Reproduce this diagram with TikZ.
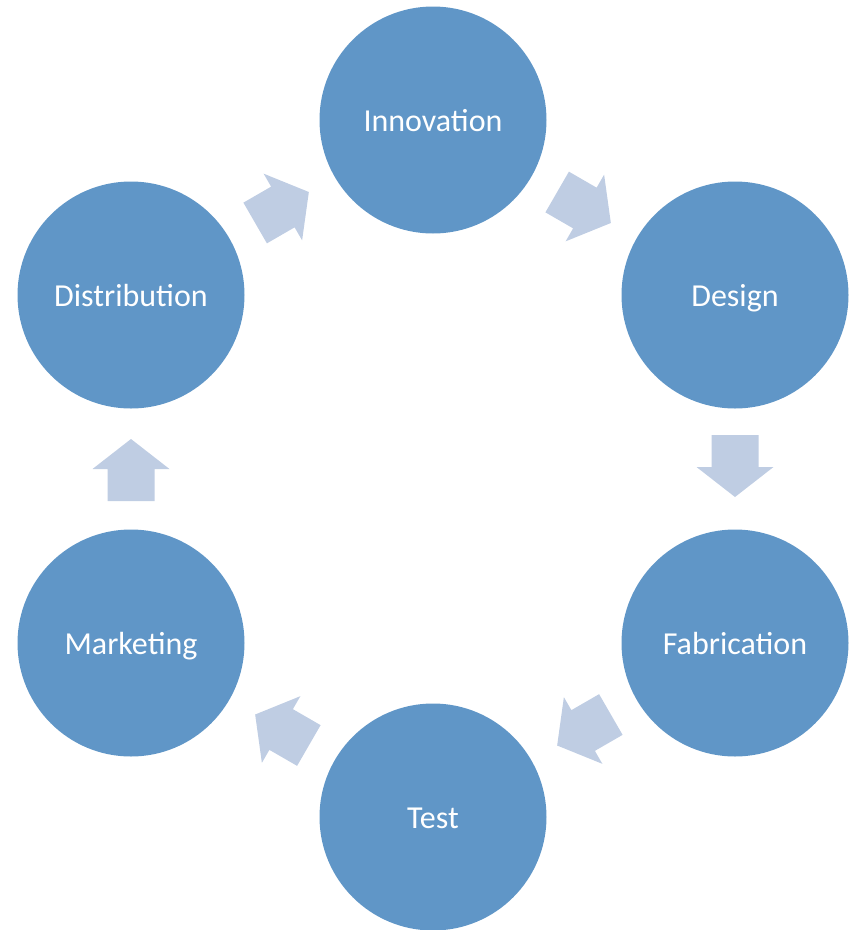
\documentclass[tikz,border=0pt]{standalone}
\usepackage{fontspec}
\setmainfont{Carlito}
\usetikzlibrary{calc}
\definecolor{circblue}{RGB}{96,150,199}
\definecolor{arrowblue}{RGB}{191,205,227}
\begin{document}
\begin{tikzpicture}[x=1pt,y=-1pt,
  stage/.style={circle, fill=circblue, minimum size=227pt, inner sep=0pt,
    text=white, font=\fontsize{32}{38}\selectfont, text height=26pt, text depth=3pt},
  blockarrow/.pic={\fill[arrowblue] (-31,-23.5) -- (1,-23.5) -- (1,-38.5) -- (31,0)
     -- (1,38.5) -- (1,23.5) -- (-31,23.5) -- cycle;}
]
\useasboundingbox (0,0) rectangle (855,930);
\node[stage] (inn) at (433,120) {Innovation};
\node[stage] (des) at (735,295) {Design};
\node[stage] (fab) at (735,643) {Fabrication};
\node[stage] (tst) at (433,817) {Test};
\node[stage] (mkt) at (131,643) {Marketing};
\node[stage] (dis) at (131,295) {Distribution};
\pic[rotate=-30] at ($(inn)!0.5!(des)$) {blockarrow};
\pic[rotate=-90] at ($(des)!0.5!(fab)+(0,-3)$) {blockarrow};
\pic[rotate=-150] at ($(fab)!0.5!(tst)$) {blockarrow};
\pic[rotate=150] at ($(tst)!0.5!(mkt)$) {blockarrow};
\pic[rotate=90] at ($(mkt)!0.5!(dis)+(0,1)$) {blockarrow};
\pic[rotate=30] at ($(dis)!0.5!(inn)$) {blockarrow};
\end{tikzpicture}
\end{document}
